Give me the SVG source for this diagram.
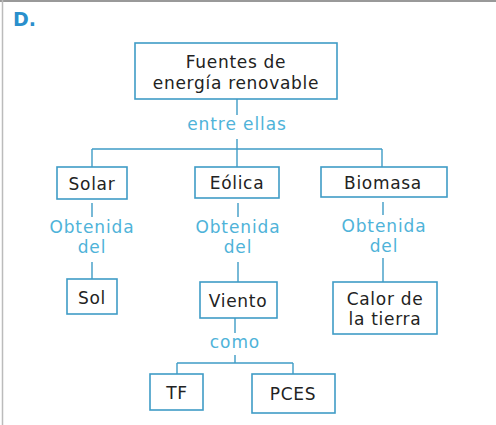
<svg xmlns="http://www.w3.org/2000/svg" width="496" height="425" viewBox="0 0 496 425">
<style>
.box{fill:#fff;stroke:#3f9cc6;stroke-width:1.6}
.ln{fill:none;stroke:#3f9cc6;stroke-width:1.4}
.t{font-family:"DejaVu Sans",sans-serif;font-size:17px;letter-spacing:0.7px;fill:#222;text-anchor:middle}
.l{font-family:"DejaVu Sans",sans-serif;font-size:17px;letter-spacing:0.9px;fill:#4fb3d9;text-anchor:middle}
</style>
<rect width="496" height="425" fill="#fff"/>
<line x1="0" y1="1" x2="496" y2="1" stroke="#999" stroke-width="2"/>
<line x1="2.5" y1="0" x2="2.5" y2="425" stroke="#bbb" stroke-width="1.5"/>
<text x="13" y="26" font-family="DejaVu Sans, sans-serif" font-weight="bold" font-size="19" fill="#2a8fcc">D.</text>
<g id="connectors">
<path class="ln" d="M237 99V115M237 139V167M92 149H382M92 149V167M382 149V167"/>
<path class="ln" d="M92 203V217M92 262V279M238 203V217M238 262V282M383 202V215M383 258V282"/>
<path class="ln" d="M235 318V333M235 355V363M177 363H293M177 363V374M293 363V374"/>
</g>
<g id="n_fuentes"><rect class="box" x="135" y="43" width="202" height="56"/><text class="t" x="236" y="68">Fuentes de</text><text class="t" x="236" y="89">energía renovable</text></g>
<g id="l_entre"><text class="l" x="237" y="130">entre ellas</text></g>
<g id="n_solar"><rect class="box" x="57" y="167" width="70" height="32"/><text class="t" x="92" y="190">Solar</text></g>
<g id="n_eolica"><rect class="box" x="195" y="167" width="84" height="31"/><text class="t" x="237" y="189">Eólica</text></g>
<g id="n_biomasa"><rect class="box" x="321" y="167" width="126" height="30"/><text class="t" x="383" y="189">Biomasa</text></g>
<g id="l_obt1"><text class="l" x="92" y="233">Obtenida</text><text class="l" x="92" y="253">del</text></g>
<g id="l_obt2"><text class="l" x="238" y="233">Obtenida</text><text class="l" x="238" y="253">del</text></g>
<g id="l_obt3"><text class="l" x="384" y="232">Obtenida</text><text class="l" x="384" y="252">del</text></g>
<g id="n_sol"><rect class="box" x="67" y="279" width="50" height="35"/><text class="t" x="92" y="304">Sol</text></g>
<g id="n_viento"><rect class="box" x="200" y="282" width="77" height="36"/><text class="t" x="238" y="307">Viento</text></g>
<g id="n_calor"><rect class="box" x="333" y="282" width="104" height="52"/><text class="t" x="385" y="305">Calor de</text><text class="t" x="385" y="325">la tierra</text></g>
<g id="l_como"><text class="l" x="235" y="348">como</text></g>
<g id="n_tf"><rect class="box" x="150" y="374" width="53" height="36"/><text class="t" x="177" y="399">TF</text></g>
<g id="n_pces"><rect class="box" x="252" y="374" width="83" height="39"/><text class="t" x="293" y="400">PCES</text></g>
</svg>
